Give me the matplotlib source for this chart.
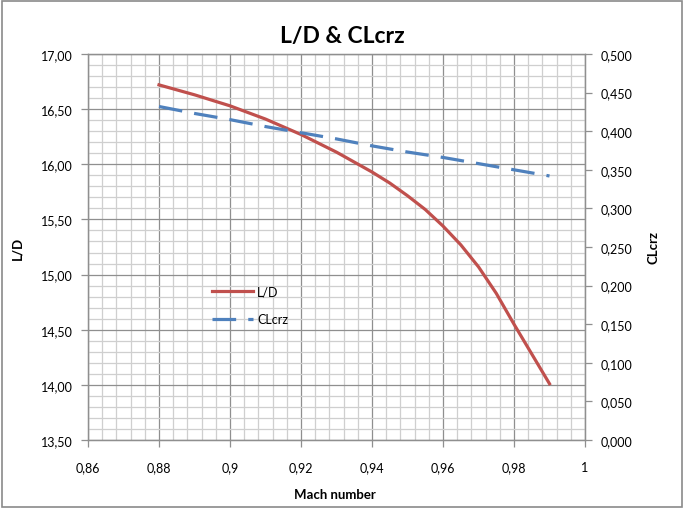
import matplotlib
matplotlib.use('Agg')
import matplotlib.pyplot as plt
from matplotlib.patches import Rectangle
from matplotlib.ticker import MultipleLocator, FuncFormatter

plt.rcParams['font.family'] = ['Lato', 'DejaVu Sans']

# data
mach = [0.880, 0.885, 0.890, 0.895, 0.900, 0.905, 0.910, 0.915, 0.920, 0.925, 0.930,
        0.935, 0.940, 0.945, 0.950, 0.955, 0.960, 0.965, 0.970, 0.975, 0.980, 0.985, 0.990]
l_over_d = [16.72, 16.675, 16.63, 16.58, 16.53, 16.47, 16.41, 16.34, 16.27, 16.19, 16.11,
            16.02, 15.93, 15.83, 15.715, 15.59, 15.44, 15.27, 15.07, 14.83, 14.55, 14.28, 14.01]
mach_cl = [0.88, 0.89, 0.90, 0.91, 0.92, 0.93, 0.94, 0.95, 0.96, 0.97, 0.98, 0.99]
cl_crz = [0.432, 0.423, 0.415, 0.406, 0.398, 0.390, 0.381, 0.373, 0.366, 0.358, 0.350, 0.342]

red = '#C0504D'
blue = '#4F81BD'
grid_major = '#8f8f8f'
grid_minor = '#cfcfcf'

W, H = 685, 510
fig = plt.figure(figsize=(W / 100, H / 100), dpi=100)
fig.patches.append(Rectangle((0.003, 0.003), 0.992, 0.994, transform=fig.transFigure,
                             fill=False, edgecolor='#8a8a8a', linewidth=1.2))

ax = fig.add_axes([88 / W, 1 - 441 / H, 497 / W, 386 / H])
ax2 = ax.twinx()

ax.plot(mach, l_over_d, color=red, lw=2.3, label='L/D')
ax2.plot(mach_cl, cl_crz, color=blue, lw=2.3, ls=(0, (7.4, 3.8)), label='CLcrz')

ax.set_xlim(0.86, 1.0)
ax.set_ylim(13.5, 17.0)
ax2.set_ylim(0, 0.5)

ax.xaxis.set_major_locator(MultipleLocator(0.02))
ax.xaxis.set_minor_locator(MultipleLocator(0.004))
ax.yaxis.set_major_locator(MultipleLocator(0.5))
ax.yaxis.set_minor_locator(MultipleLocator(0.1))
ax2.yaxis.set_major_locator(MultipleLocator(0.05))


def xfmt(v, pos):
    s = ('%.2f' % v).rstrip('0').rstrip('.')
    return s.replace('.', ',')


ax.xaxis.set_major_formatter(FuncFormatter(xfmt))
ax.yaxis.set_major_formatter(FuncFormatter(lambda v, p: ('%.2f' % v).replace('.', ',')))
ax2.yaxis.set_major_formatter(FuncFormatter(lambda v, p: ('%.3f' % v).replace('.', ',')))

ax.grid(which='major', color=grid_major, lw=0.9)
ax.grid(which='minor', color=grid_minor, lw=0.9)
ax.set_axisbelow(True)

for a in (ax, ax2):
    for s in a.spines.values():
        s.set_color(grid_major)
        s.set_linewidth(0.9)
    a.tick_params(which='major', length=5, width=0.9, color=grid_major,
                  labelsize=9, labelcolor='black', pad=6)
    a.tick_params(which='minor', length=0)
ax.tick_params(axis='x', pad=10)

# titles placed in figure pixels
def fig_text(x, y, s, **kw):
    fig.text(x / W, 1 - y / H, s, ha='center', va='center', fontweight='bold', **kw)


fig_text(342, 37, 'L/D & CLcrz', fontsize=16.5)
fig_text(335, 495, 'Mach number', fontsize=9.5)
fig_text(17, 248, 'L/D', fontsize=9.5, rotation=90)
fig_text(653, 248, 'CLcrz', fontsize=9.5, rotation=90)

h1, l1 = ax.get_legend_handles_labels()
h2, l2 = ax2.get_legend_handles_labels()
ax2.legend(h1 + h2, l1 + l2, loc='upper left', bbox_to_anchor=(0.2495, 0.40),
           frameon=False, fontsize=9, handlelength=3.3, handletextpad=0.3,
           labelspacing=1.25, borderpad=0, borderaxespad=0)

fig.savefig('out.png', dpi=100)
